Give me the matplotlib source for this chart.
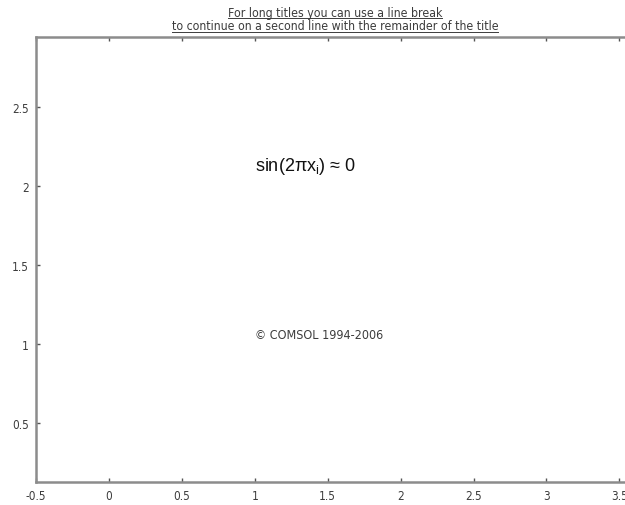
import matplotlib
matplotlib.use("Agg")
import matplotlib.pyplot as plt
from matplotlib.lines import Line2D

# axis setup
x_limits = [-0.5, 3.6]
y_limits = [0.127, 2.94]
x_ticks = [-0.5, 0, 0.5, 1, 1.5, 2, 2.5, 3, 3.5]
x_tick_labels = ["-0.5", "0", "0.5", "1", "1.5", "2", "2.5", "3", "3.5"]
y_ticks = [0.5, 1, 1.5, 2, 2.5]
y_tick_labels = ["0.5", "1", "1.5", "2", "2.5"]

title_lines = ["For long titles you can use a line break",
               "to continue on a second line with the remainder of the title"]
formula_text = r"sin(2πx$_\mathregular{i}$) ≈ 0"
formula_pos = (1.0, 2.06)
copyright_text = "© COMSOL 1994-2006"
copyright_pos = (1.0, 1.02)

spine_color = "#8c8c8c"
text_color = "#3c3c3c"

plt.rcParams["font.stretch"] = "condensed"

fig = plt.figure(figsize=(6.25, 5.06), dpi=100)
ax = fig.add_axes([36 / 625, 1 - 483 / 506, 598 / 625, 445 / 506])
ax.set_xlim(x_limits)
ax.set_ylim(y_limits)

for side in ["left", "bottom", "top"]:
    ax.spines[side].set_color(spine_color)
    ax.spines[side].set_linewidth(1.8)
ax.spines["right"].set_visible(False)

ax.set_xticks(x_ticks)
ax.set_xticklabels(x_tick_labels)
ax.set_yticks(y_ticks)
ax.set_yticklabels(y_tick_labels)
ax.tick_params(direction="in", length=3, width=1, color="#555555",
               labelsize=8.5, labelcolor=text_color, top=True, pad=5)

ax.text(*formula_pos, formula_text, fontsize=13, family="Liberation Sans",
        stretch="normal", color="#111111", ha="left", va="bottom")
ax.text(*copyright_pos, copyright_text, fontsize=9,
        color=text_color, ha="left", va="bottom")

# two-line title, each line underlined
center_x = (36 + 634) / 2 / 625
title_y = [1 - 13 / 506, 1 - 27 / 506]
renderer = fig.canvas.get_renderer()
for line, ty in zip(title_lines, title_y):
    t = fig.text(center_x, ty, line, fontsize=8.8, color=text_color,
                 ha="center", va="center")
    bb = t.get_window_extent(renderer).transformed(fig.transFigure.inverted())
    uy = bb.y0 + 0.001
    fig.add_artist(Line2D([bb.x0, bb.x1], [uy, uy], transform=fig.transFigure,
                          color=text_color, linewidth=0.7))

fig.savefig("out.png", dpi=100)
